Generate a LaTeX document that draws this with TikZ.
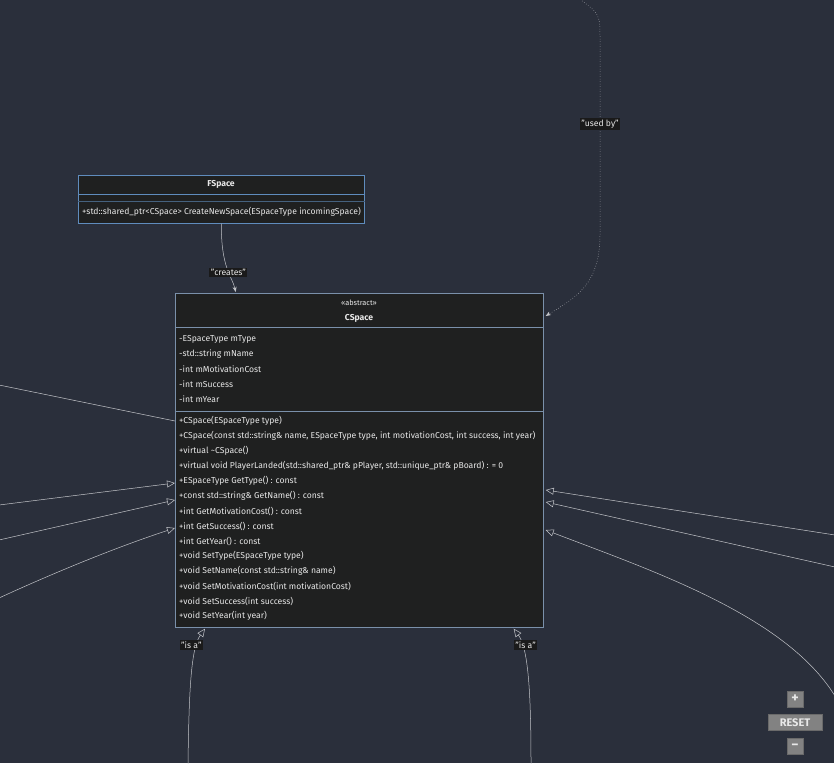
\documentclass[tikz,border=0pt]{standalone}
\usepackage{fontspec}
\setmainfont{Fira Sans}
\usetikzlibrary{arrows.meta,calc,positioning}
\definecolor{bgcol}{HTML}{2A2F3B}
\definecolor{boxbg}{HTML}{1F2020}
\definecolor{boxln}{HTML}{7A90AA}
\definecolor{fboxln}{HTML}{5F8CBD}
\definecolor{txt}{HTML}{E8E8E8}
\definecolor{edgecol}{HTML}{C4C6CA}
\definecolor{lblbg}{HTML}{1A1A1A}
\definecolor{btnbg}{HTML}{828282}
\definecolor{btnln}{HTML}{6A6A6A}
\newcommand{\memfont}{\fontsize{8.6}{9}\selectfont}

\begin{document}
\begin{tikzpicture}[x=1pt,y=-1pt,>=Stealth]
 \tikzstyle{cls}=[draw=boxln, fill=boxbg, line width=0.7pt, inner sep=0pt, anchor=north west]
 \tikzstyle{memb}=[anchor=west, inner sep=0pt, text=txt, font=\memfont]
 \tikzstyle{ttl}=[inner sep=0pt, text=txt, font=\memfont\bfseries]
 \tikzstyle{lbl}=[fill=lblbg, text=txt, font=\memfont, inner sep=1.5pt]
 \tikzstyle{rel}=[draw=edgecol, line width=0.5pt]
 \tikzstyle{isa}=[rel, -{Triangle[open, length=8pt, width=7pt]}]
 \tikzstyle{btn}=[draw=btnln, fill=btnbg, line width=0.8pt, text=txt, inner sep=0pt]

 \useasboundingbox (0,0) rectangle (834,763);
 \fill[bgcol] (0,0) rectangle (834,763);

 % factory
 \node[cls, draw=fboxln, minimum width=286pt, minimum height=48pt] (fspace) at (78,175) {};
 \node[ttl] (fname) at (221,184.5) {FSpace};
 \draw[fboxln, line width=0.7pt] ($(fspace.north west)+(0,19)$) -- ($(fspace.north east)+(0,19)$);
 \draw[fboxln!60!boxbg, line width=0.7pt] ($(fspace.north west)+(0,26)$) -- ($(fspace.north east)+(0,26)$);
 \node[memb] (fmeth) at (82,212) {+std::shared\_ptr<CSpace> CreateNewSpace(ESpaceType incomingSpace)};

 % abstract base
 \node[cls, minimum width=368pt, minimum height=334pt] (cspace) at (175,293) {};
 \node[ttl, font=\fontsize{7.4}{8}\selectfont] (stereo) at (359,302.5) {«abstract»};
 \node[ttl] (cname) at (359,318) {CSpace};
 \draw[boxln, line width=0.7pt] ($(cspace.north west)+(0,34)$) -- ($(cspace.north east)+(0,34)$);
 \draw[boxln, line width=0.7pt] ($(cspace.north west)+(0,118)$) -- ($(cspace.north east)+(0,118)$);
 \foreach \m [count=\i] in {{-ESpaceType mType}, {-std::string mName}, {-int mMotivationCost},
   {-int mSuccess}, {-int mYear}}
   \node[memb] (attr\i) at (179,324+15*\i) {\m};
 \foreach \m [count=\i] in {{+CSpace(ESpaceType type)},
   {+CSpace(const std::string\& name, ESpaceType type, int motivationCost, int success, int year)},
   {+virtual \textasciitilde CSpace()},
   {+virtual void PlayerLanded(std::shared\_ptr\& pPlayer, std::unique\_ptr\& pBoard) : = 0},
   {+ESpaceType GetType() : const}, {+const std::string\& GetName() : const},
   {+int GetMotivationCost() : const}, {+int GetSuccess() : const}, {+int GetYear() : const},
   {+void SetType(ESpaceType type)}, {+void SetName(const std::string\& name)},
   {+void SetMotivationCost(int motivationCost)}, {+void SetSuccess(int success)},
   {+void SetYear(int year)}}
   \node[memb] (meth\i) at (179,406+15*\i) {\m};

 % free ends off the canvas
 \coordinate (ubtop) at (578,-2);
 \coordinate (lA) at (-1,385);
 \coordinate (lB) at (-1,505);
 \coordinate (lC) at (-1,540);
 \coordinate (lD) at (-1,598);
 \coordinate (rA) at (835,535);
 \coordinate (rB) at (835,567);
 \coordinate (rC) at (835,696);
 \coordinate (bA) at (188,764);
 \coordinate (bB) at (531,764);

 \draw[rel, ->, shorten >=1pt] (fspace.south) .. controls (221,268) and (232,276) .. node[lbl, pos=0.57] (lcreates) {"creates"} ($(cspace.north west)+(61,0)$);
 \draw[rel, dotted, ->] (ubtop) .. controls (600,14) .. (600,40) -- node[lbl, pos=0.43] (lusedby) {"used by"} (600,235)
   .. controls (600,285) and (575,298) .. ($(cspace.north east)+(2,23)$);

 \draw[rel] (lA) -- ($(cspace.north west)+(0,128)$);
 \draw[isa] (lB) -- ($(cspace.north west)+(0,190)$);
 \draw[isa] (lC) -- ($(cspace.north west)+(0,207)$);
 \draw[isa] (lD) .. controls (60,570) and (120,546) .. ($(cspace.north west)+(0,235)$);
 \draw[isa] (rA) -- ($(cspace.north east)+(2,197)$);
 \draw[isa] (rB) -- ($(cspace.north east)+(2,209)$);
 \draw[isa] (rC) .. controls (785,615) and (650,570) .. ($(cspace.north east)+(2,237)$);
 \draw[isa] (bA) .. controls (189,690) and (191,648) .. node[lbl, pos=0.78, xshift=-6pt] (lisa1) {"is a"} ($(cspace.south west)+(30,1)$);
 \draw[isa] (bB) .. controls (531,690) and (528,648) .. node[lbl, pos=0.78, xshift=4pt] (lisa2) {"is a"} ($(cspace.south east)+(-30,1)$);

 % zoom controls
 \node[btn, minimum width=16pt, minimum height=16pt, font=\bfseries\fontsize{14}{14}\selectfont] (zin) at (795,699) {+};
 \node[btn, minimum width=54pt, minimum height=16pt, font=\bfseries\fontsize{11}{11}\selectfont, below=7pt of zin] (zreset) {RESET};
 \node[btn, minimum width=16pt, minimum height=16pt, font=\bfseries\fontsize{14}{14}\selectfont, below=7pt of zreset] (zout) {−};
\end{tikzpicture}
\end{document}
